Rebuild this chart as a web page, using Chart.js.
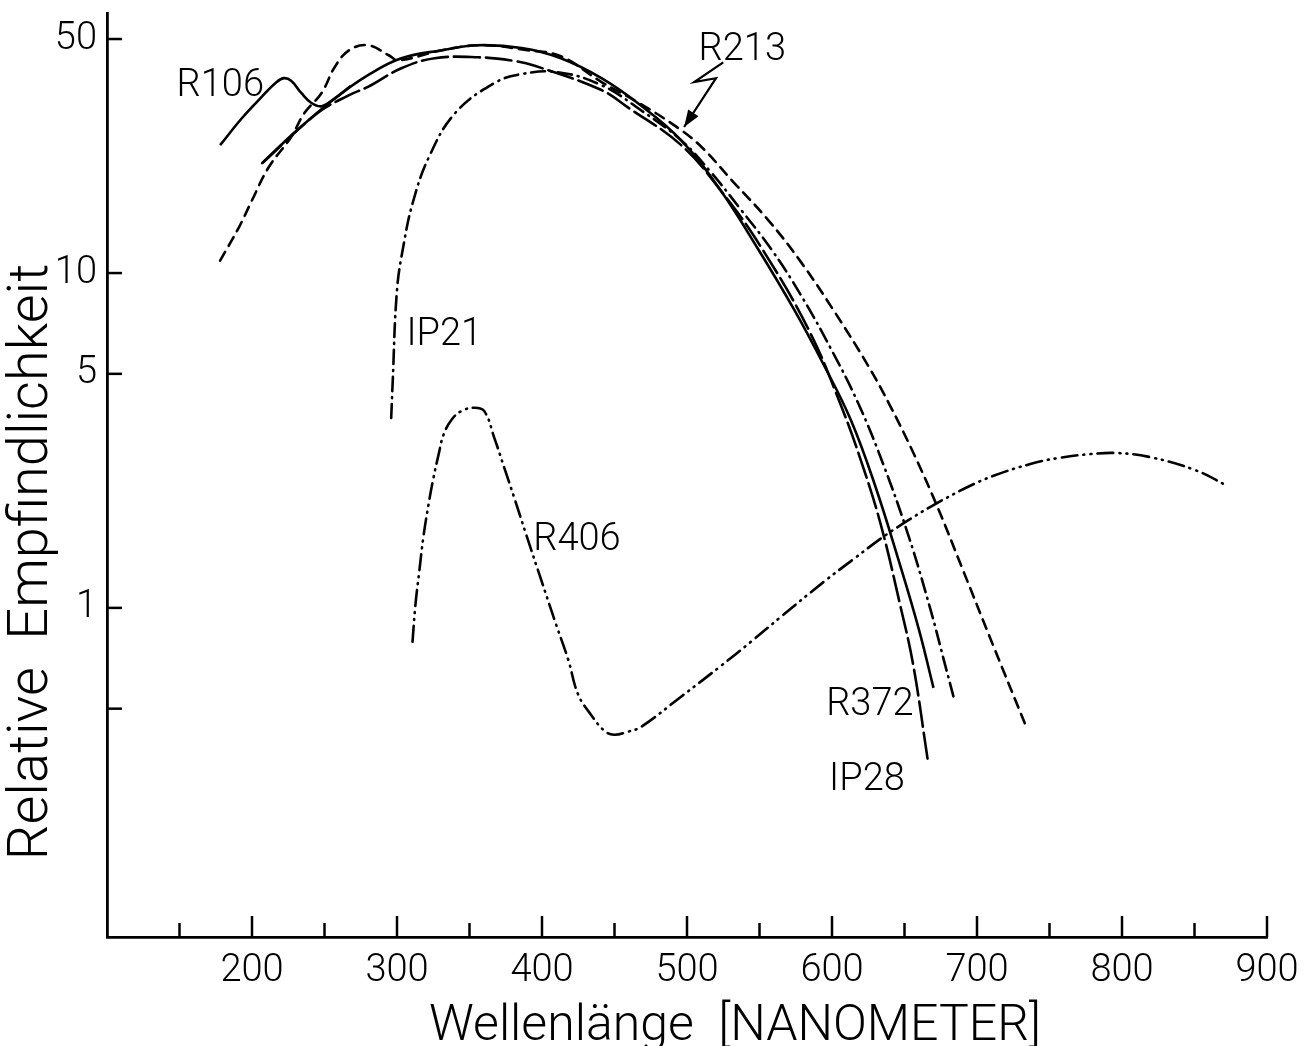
<!DOCTYPE html>
<html>
<head>
<meta charset="utf-8">
<script src="https://cdn.jsdelivr.net/npm/chart.js@4.4.1/dist/chart.umd.min.js"></script>
<style>
  html, body { margin: 0; padding: 0; background: #fff; }
  #wrap { width: 1312px; height: 1046px; }
</style>
</head>
<body>
<div id="wrap"><canvas id="chart" width="1312" height="1046"></canvas></div>
<script>
// ---------------- Data ----------------
const r106Nm  = [178, 193, 207, 217, 222, 227, 234, 241, 248, 257, 268];
const r106Val = [24.1, 29.0, 33.7, 37.2, 38.2, 37.5, 34.5, 32.2, 31.5, 33.2, 36.2];

const r372Nm  = [207, 229, 257, 280, 303, 331, 355, 386, 413, 441, 468, 496, 523, 549, 574, 594, 613, 630, 647, 660, 670];
const r372Val = [21.3, 26.2, 33.2, 39.0, 43.8, 46.3, 47.9, 47.0, 43.8, 38.2, 31.7, 24.9, 17.7, 11.8, 7.76, 5.35, 3.64, 2.30, 1.34, 0.86, 0.577];

const ip28Nm  = [207, 245, 267, 280, 303, 326, 356, 381, 395, 441, 459, 496, 523, 551, 584, 606, 621, 634, 647, 656, 666];
const ip28Val = [21.3, 30.0, 34.0, 36.0, 40.9, 43.8, 44.1, 43.0, 41.6, 35.2, 31.3, 24.1, 17.7, 11.96, 6.76, 4.04, 2.67, 1.75, 1.02, 0.676, 0.352];

const ip21Nm  = [296, 297, 300, 304.5, 311, 322, 340, 367, 386, 411, 441, 468, 496, 516.5, 537, 558, 578.5, 599, 618, 635, 653, 668, 678, 684];
const ip21Val = [3.69, 4.7, 8.9, 12.1, 16.3, 22.2, 30.0, 36.9, 39.3, 39.8, 36.4, 30.7, 24.9, 20.0, 15.5, 11.8, 8.6, 5.97, 4.09, 2.71, 1.63, 0.986, 0.676, 0.539];

const r213Nm  = [178, 191, 200, 211.5, 227, 236, 248, 257, 267, 280, 294, 301, 331, 358, 390, 413, 441, 468, 494, 510, 532, 556, 578.5, 601, 625, 640, 656, 673, 689, 711, 734];
const r213Val = [10.9, 13.7, 16.5, 20.7, 25.5, 30.0, 34.5, 41.2, 46.3, 47.9, 44.8, 43.2, 46.3, 47.9, 46.3, 44.4, 37.2, 32.0, 27.1, 23.8, 18.7, 14.4, 10.8, 7.75, 5.28, 4.02, 2.91, 1.99, 1.34, 0.775, 0.441];

const r406Nm  = [310.7, 312.7, 315.5, 318.2, 321.7, 325.1, 328.6, 332, 337.5, 344.4, 353.4, 360.2, 367.1, 374, 380.9, 389.2, 399.5, 409.8, 418.1, 425, 433.9, 442.9, 449.7, 459.4, 468.3, 495.9, 523.4, 544.1, 564.7, 594.3, 615, 633.6, 649.4, 669.4, 692.1, 711.4, 736.8, 755.4, 778.1, 797.4, 819.4, 850.4, 873.1];
const r406Val = [0.792, 1.02, 1.30, 1.63, 2.03, 2.44, 2.86, 3.28, 3.64, 3.87, 3.96, 3.87, 3.22, 2.62, 2.13, 1.65, 1.21, 0.89, 0.70, 0.55, 0.479, 0.430, 0.418, 0.427, 0.441, 0.543, 0.671, 0.792, 0.94, 1.196, 1.40, 1.61, 1.79, 2.02, 2.28, 2.48, 2.69, 2.80, 2.88, 2.90, 2.82, 2.58, 2.31];

// pointer line from the "R213" label to its curve
const arrowNm  = [525, 505, 520, 498];
const arrowVal = [42.6, 37.2, 38.2, 27.3];

// axis ticks
const xTickValues = [150, 200, 250, 300, 350, 400, 450, 500, 550, 600, 650, 700, 750, 800, 850, 900];
const xTickLabels = ['200', '300', '400', '500', '600', '700', '800', '900'];
const yTickValues = [0.5, 1, 5, 10, 50];
const yTickLabels = ['1', '5', '10', '50'];

// curve names and where they are written
const curveNames = ['R106', 'R213', 'IP21', 'R406', 'R372', 'IP28'];
const nameNm     = [148, 508, 306.5, 394, 596, 598];
const nameVal    = [33.7, 43.2, 6.1, 1.49, 0.48, 0.286];

const xTitle = 'Wellenlänge  [NANOMETER]';
const yTitle = 'Relative  Empfindlichkeit';

// ---------------- Helpers ----------------
const FONT = "Roboto, 'DejaVu Sans', sans-serif";
const pts = (xs, ys) => xs.map((x, i) => ({ x, y: ys[i] }));

function curve(label, xs, ys, dash) {
  return {
    label,
    data: pts(xs, ys),
    borderColor: '#000',
    borderWidth: 2.6,
    borderDash: dash,
    borderCapStyle: dash.length ? 'round' : 'butt',
    pointRadius: 0,
    showLine: true,
    fill: false,
    tension: 0.4
  };
}

// ---------------- Plugins ----------------
const inwardTicks = {
  id: 'inwardTicks',
  afterDraw(chart) {
    const { ctx, scales: { x, y } } = chart;
    ctx.save();
    ctx.strokeStyle = '#000';
    ctx.lineWidth = 2.5;
    xTickValues.forEach(v => {
      const px = x.getPixelForValue(v);
      const len = v % 100 === 0 ? 21 : 14;
      ctx.beginPath();
      ctx.moveTo(px, y.bottom);
      ctx.lineTo(px, y.bottom - len);
      ctx.stroke();
    });
    yTickValues.forEach(v => {
      const py = y.getPixelForValue(v);
      ctx.beginPath();
      ctx.moveTo(x.left, py);
      ctx.lineTo(x.left + 15, py);
      ctx.stroke();
    });
    ctx.restore();
  }
};

const annotations = {
  id: 'annotations',
  afterDraw(chart) {
    const { ctx, scales: { x, y } } = chart;
    ctx.save();
    ctx.fillStyle = '#000';
    ctx.font = `300 38px ${FONT}`;
    ctx.textAlign = 'left';
    ctx.textBaseline = 'alphabetic';
    curveNames.forEach((name, i) => {
      ctx.fillText(name, x.getPixelForValue(nameNm[i]), y.getPixelForValue(nameVal[i]));
    });

    // arrow head at the end of the R213 pointer
    const n = arrowNm.length;
    const x1 = x.getPixelForValue(arrowNm[n - 2]), y1 = y.getPixelForValue(arrowVal[n - 2]);
    const x2 = x.getPixelForValue(arrowNm[n - 1]), y2 = y.getPixelForValue(arrowVal[n - 1]);
    const a = Math.atan2(y2 - y1, x2 - x1);
    ctx.beginPath();
    ctx.moveTo(x2, y2);
    ctx.lineTo(x2 - 18 * Math.cos(a - 0.35), y2 - 18 * Math.sin(a - 0.35));
    ctx.lineTo(x2 - 18 * Math.cos(a + 0.35), y2 - 18 * Math.sin(a + 0.35));
    ctx.closePath();
    ctx.fill();

    // axis titles
    ctx.font = `300 50px ${FONT}`;
    ctx.textAlign = 'center';
    ctx.fillText(xTitle, 735, 1040);
    ctx.font = `300 56px ${FONT}`;
    ctx.translate(33, 562);
    ctx.rotate(-Math.PI / 2);
    ctx.textBaseline = 'middle';
    ctx.fillText(yTitle, 0, 0);
    ctx.restore();
  }
};

// ---------------- Chart ----------------
new Chart(document.getElementById('chart'), {
  type: 'scatter',
  data: {
    datasets: [
      curve('R106', r106Nm, r106Val, []),
      curve('R372', r372Nm, r372Val, []),
      curve('IP28', ip28Nm, ip28Val, [26, 6]),
      curve('IP21', ip21Nm, ip21Val, [14, 6, 1, 6]),
      curve('R213', r213Nm, r213Val, [10, 7]),
      curve('R406', r406Nm, r406Val, [16, 6, 1, 6, 1, 6]),
      {
        label: 'arrow',
        data: pts(arrowNm, arrowVal),
        borderColor: '#000',
        borderWidth: 2.2,
        pointRadius: 0,
        showLine: true,
        tension: 0
      }
    ]
  },
  options: {
    responsive: false,
    animation: false,
    devicePixelRatio: 1,
    layout: { padding: { left: 0, top: 13, right: 45, bottom: 0 } },
    plugins: {
      legend: { display: false },
      tooltip: { enabled: false }
    },
    scales: {
      x: {
        type: 'linear',
        min: 100,
        max: 900,
        afterFit: s => { s.height = 109; s.paddingLeft = 0; },
        afterBuildTicks: s => { s.ticks = xTickValues.map(v => ({ value: v })); },
        grid: { display: false, drawTicks: false },
        border: { display: true, color: '#000', width: 2.8 },
        ticks: {
          padding: 12,
          color: '#000',
          font: { family: FONT, size: 38, weight: 300 },
          maxRotation: 0,
          autoSkip: false,
          callback: v => xTickLabels.includes(String(v)) ? String(v) : ''
        }
      },
      y: {
        type: 'logarithmic',
        min: 0.104,
        max: 59.8,
        afterFit: s => { s.width = 107; s.paddingTop = 0; s.paddingBottom = 0; },
        afterBuildTicks: s => { s.ticks = yTickValues.map(v => ({ value: v })); },
        grid: { display: false, drawTicks: false },
        border: { display: true, color: '#000', width: 2.8 },
        ticks: {
          padding: 10,
          color: '#000',
          font: { family: FONT, size: 38, weight: 300 },
          autoSkip: false,
          callback: v => yTickLabels.includes(String(v)) ? String(v) : ''
        }
      }
    }
  },
  plugins: [inwardTicks, annotations]
});
</script>
</body>
</html>
